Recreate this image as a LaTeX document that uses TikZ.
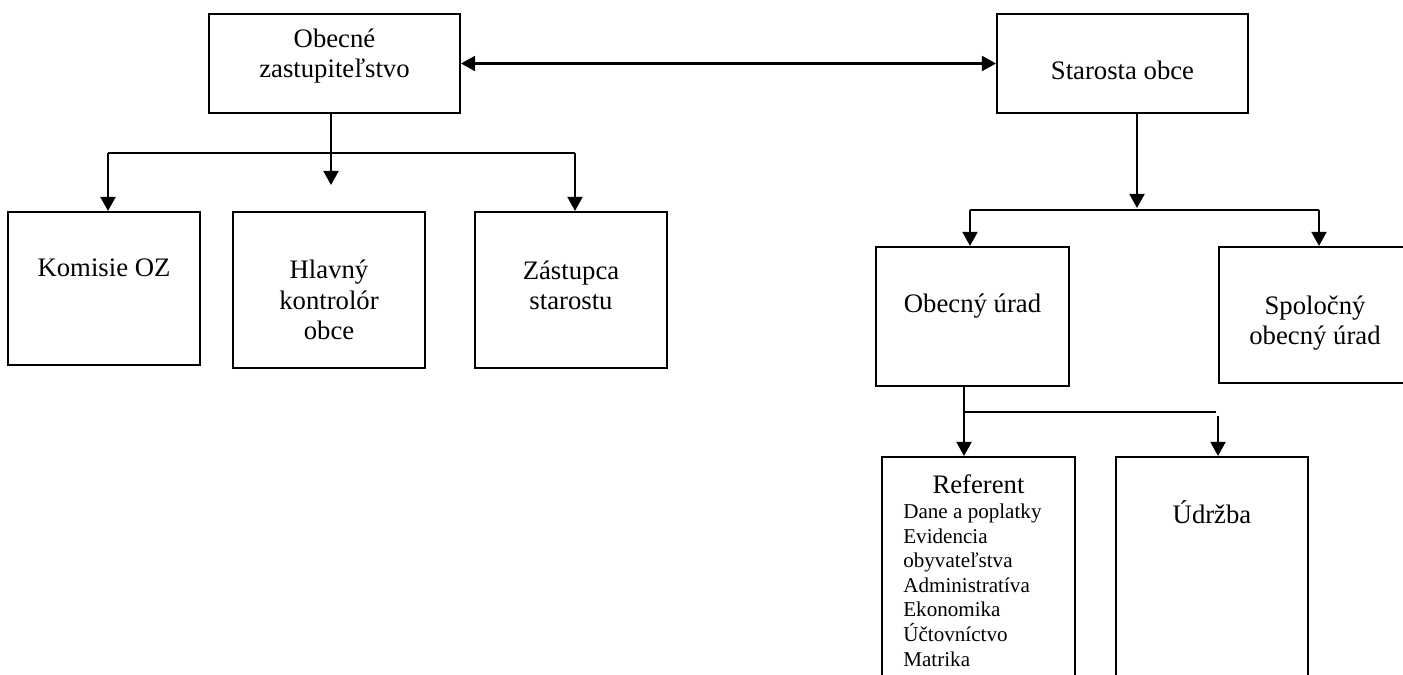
\documentclass[tikz,border=0pt]{standalone}
\usepackage{fontspec}
\setmainfont{Liberation Serif}
\usetikzlibrary{arrows.meta}
\newcommand{\mainfs}{\fontsize{15.2}{17.6}\selectfont}
\newcommand{\listfs}{\fontsize{12}{14}\selectfont}
\tikzset{
  box/.style={draw,line width=1.2pt,inner sep=0pt},
  lbl/.style={font=\mainfs,align=center,inner sep=0pt,anchor=base},
  conn/.style={line width=1.3pt},
  arr/.style={conn,-{Triangle[length=8pt,width=8.5pt]}},
  darr/.style={conn,{Triangle[length=8pt,width=8.5pt]}-{Triangle[length=8pt,width=8.5pt]}}
}

\begin{document}
\begin{tikzpicture}[x=0.02cm,y=-0.02cm]
\clip (0,0) rectangle (1403,675);
\fill[white] (0,0) rectangle (1403,675);

\node[box,minimum width=5.02cm,minimum height=1.98cm] (oz) at (334.5,63.5) {};
\node[box,minimum width=5.02cm,minimum height=1.98cm] (star) at (1122.5,63.5) {};
\node[box,minimum width=3.84cm,minimum height=3.06cm] (kom) at (104,288.5) {};
\node[box,minimum width=3.84cm,minimum height=3.12cm] (hlav) at (329,290) {};
\node[box,minimum width=3.84cm,minimum height=3.12cm] (zast) at (571,290) {};
\node[box,minimum width=3.86cm,minimum height=2.78cm] (urad) at (972.5,316.5) {};
\node[box,minimum width=3.84cm,minimum height=2.72cm] (spol) at (1315,315) {};
\node[box,minimum width=3.86cm,minimum height=4.86cm] (ref) at (978.5,578.5) {};
\node[box,minimum width=3.84cm,minimum height=4.86cm] (udr) at (1212,578.5) {};

\node[lbl] (ozText) at (334.5,78) {Obecné\\zastupiteľstvo};
\node[lbl] (starText) at (1122.5,80) {Starosta obce};
\node[lbl] (komText) at (104,277) {Komisie OZ};
\node[lbl] (hlavText) at (329,340) {Hlavný\\kontrolór\\obce};
\node[lbl] (zastText) at (571,310) {Zástupca\\starostu};
\node[lbl] (uradText) at (972.5,313) {Obecný úrad};
\node[lbl] (spolText) at (1315,345) {Spoločný\\obecný úrad};
\node[lbl] (refText) at (978.5,493) {Referent};
\node[lbl,font=\listfs,align=left,anchor=base west] (refList) at (903,666)
  {Dane a poplatky\\Evidencia\\obyvateľstva\\Administratíva\\Ekonomika\\Účtovníctvo\\Matrika};
\node[lbl] (udrText) at (1212,523) {Údržba};

\draw[darr] (oz) -- (star);

\coordinate (ozTip) at (331,185);
\coordinate (ozL) at (108,153);
\coordinate (ozR) at (575,153);
\draw[arr] (oz.south -| ozTip) -- (ozTip);
\draw[conn] (ozL) -- (ozR);
\draw[arr] (ozL) -- (ozL |- kom.north);
\draw[arr] (ozR) -- (ozR |- zast.north);

\coordinate (starTip) at (1137,208);
\coordinate (starL) at (970,210);
\coordinate (starR) at (1319,210);
\draw[arr] (star.south -| starTip) -- (starTip);
\draw[conn] (starL) -- (starR);
\draw[arr] (starL) -- (starL |- urad.north);
\draw[arr] (starR) -- (starR |- spol.north);

\coordinate (uradL) at (964,412);
\coordinate (uradR) at (1216,412);
\coordinate (udrTop) at (1218,416);
\draw[arr] (urad.south -| uradL) -- (uradL |- ref.north);
\draw[conn] (uradL) -- (uradR);
\draw[arr] (udrTop) -- (udrTop |- udr.north);
\end{tikzpicture}
\end{document}
